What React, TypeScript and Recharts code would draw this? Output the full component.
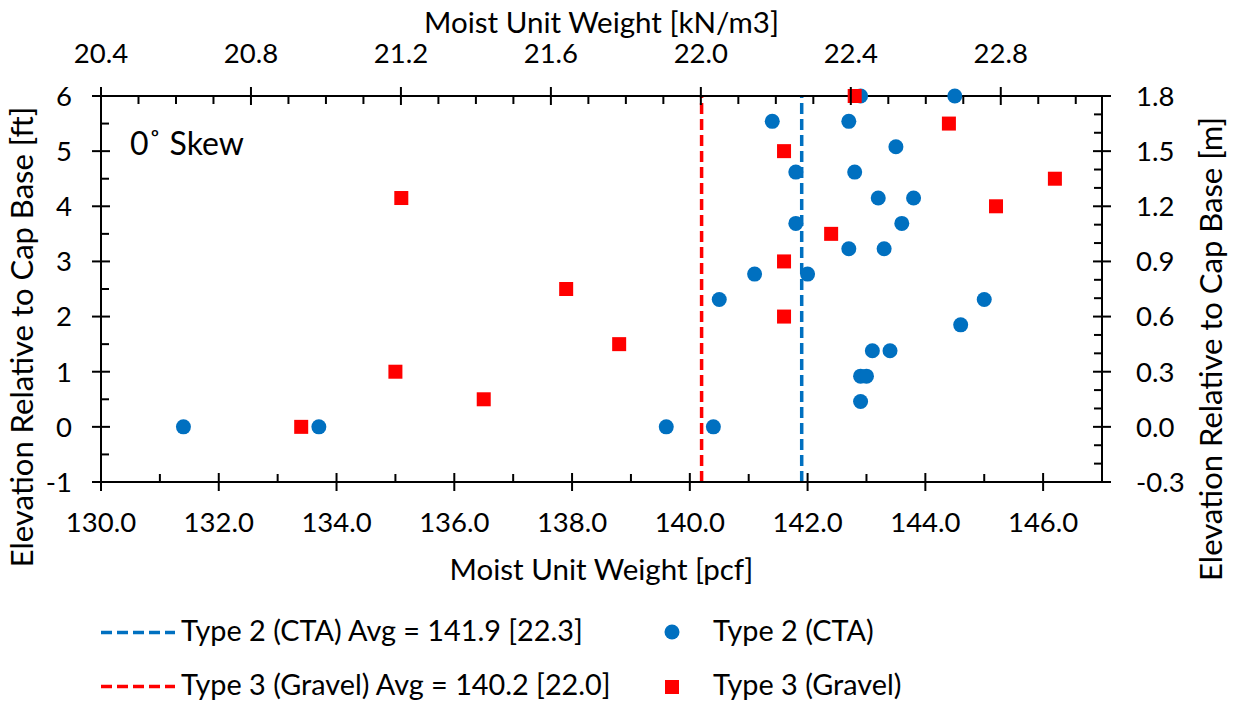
import { ScatterChart, Scatter, XAxis, YAxis, ReferenceLine } from "recharts";

// Type 2 (CTA) samples: moist unit weight [pcf] vs elevation [ft]
const type2Weight = [
  131.4, 133.7, 139.6, 140.4, 142.9, 142.9, 143.0, 143.1, 143.4, 144.6, 140.5, 145.0, 141.1, 142.0,
  142.7, 143.3, 141.8, 143.6, 143.2, 143.8, 141.8, 142.8, 143.5, 141.4, 142.7, 142.9, 144.5,
];
const type2Elev = [
  0, 0, 0, 0, 0.46, 0.92, 0.92, 1.38, 1.38, 1.85, 2.31, 2.31, 2.77, 2.77,
  3.23, 3.23, 3.69, 3.69, 4.15, 4.15, 4.62, 4.62, 5.08, 5.54, 5.54, 6.0, 6.0,
];

// Type 3 (Gravel) samples
const type3Weight = [133.4, 136.5, 135.0, 138.8, 141.6, 137.9, 141.6, 142.4, 145.2, 135.1, 146.2, 141.6, 144.4, 142.8];
const type3Elev = [0, 0.5, 1.0, 1.5, 2.0, 2.5, 3.0, 3.5, 4.0, 4.15, 4.5, 5.0, 5.5, 6.0];

const type2Avg = 141.9;
const type3Avg = 140.2;

// axis ticks
const pcfMajor = [130, 132, 134, 136, 138, 140, 142, 144, 146];
const pcfMinor = [131, 133, 135, 137, 139, 141, 143, 145, 147];
const knMajor = [20.4, 20.8, 21.2, 21.6, 22.0, 22.4, 22.8];
const knMinor = [
  20.5, 20.6, 20.7, 20.9, 21.0, 21.1, 21.3, 21.4, 21.5, 21.7, 21.8, 21.9,
  22.1, 22.2, 22.3, 22.5, 22.6, 22.7, 22.9, 23.0,
];
const ftMajor = [-1, 0, 1, 2, 3, 4, 5, 6];
const ftMinor = [-0.5, 0.5, 1.5, 2.5, 3.5, 4.5, 5.5];
const mMajor = [-0.3, 0, 0.3, 0.6, 0.9, 1.2, 1.5, 1.8];
const mMinor = [-0.2, -0.1, 0.1, 0.2, 0.4, 0.5, 0.7, 0.8, 1.0, 1.1, 1.3, 1.4, 1.6, 1.7];

const BLUE = "#0070C0";
const RED = "#FF0000";
const FONT = "Lato, 'Noto Sans', sans-serif";
const TICK_FS = 27.5;
const TITLE_FS = 29.5;

const type2Points = type2Weight.map((w, i) => ({ x: w, y: type2Elev[i] }));
const type3Points = type3Weight.map((w, i) => ({ x: w, y: type3Elev[i] }));

type Side = "bottom" | "top" | "left" | "right";

function makeTick(side: Side, majors: number[], digits: number) {
  return (props: any) => {
    const { x, y, payload } = props;
    const v = payload.value;
    const major = majors.some((m) => Math.abs(m - v) < 1e-6);
    const label = Math.abs(v) < 1e-9 ? (0).toFixed(digits) : v.toFixed(digits);
    const ln = { stroke: "#000", strokeWidth: 2 };
    let line;
    let text = null;
    if (side === "bottom" || side === "top") {
      const inward = side === "bottom" ? -8 : 8;
      line = major ? <line x1={x} x2={x} y1={y - 9} y2={y + 9} {...ln} /> : <line x1={x} x2={x} y1={y} y2={y + inward} {...ln} />;
      if (major)
        text = (
          <text x={x} y={side === "bottom" ? y + 50 : y - 33} textAnchor="middle" fontSize={TICK_FS} fontFamily={FONT} fill="#000">
            {label}
          </text>
        );
    } else {
      const inward = side === "left" ? 8 : -8;
      line = major ? <line x1={x - 9} x2={x + 9} y1={y} y2={y} {...ln} /> : <line x1={x} x2={x + inward} y1={y} y2={y} {...ln} />;
      if (major)
        text = (
          <text
            x={side === "left" ? x - 29 : x + 34}
            y={y + 9.8}
            textAnchor={side === "left" ? "end" : "start"}
            fontSize={TICK_FS}
            fontFamily={FONT}
            fill="#000"
          >
            {label}
          </text>
        );
    }
    return (
      <g>
        {line}
        {text}
      </g>
    );
  };
}

const axisTitle = (text: string, side: Side, fontSize: number) => (props: any) => {
  const vb = props.viewBox;
  const common = { fontSize, fontFamily: FONT, fill: "#000", textAnchor: "middle" as const };
  if (side === "bottom") {
    return <text x={vb.x + vb.width / 2} y={580} {...common}>{text}</text>;
  }
  if (side === "top") {
    return <text x={vb.x + vb.width / 2} y={33} {...common}>{text}</text>;
  }
  const x = side === "left" ? 33 : 1222;
  const y = side === "left" ? 337 : 349;
  return (
    <text x={x} y={y} transform={`rotate(-90, ${x}, ${y})`} {...common}>
      {text}
    </text>
  );
};

const Dot = (p: any) => <circle cx={p.cx} cy={p.cy} r={7.5} fill={BLUE} />;
const Sq = (p: any) => <rect x={p.cx - 7} y={p.cy - 7} width={14} height={14} fill={RED} />;

const axisLine = { stroke: "#000", strokeWidth: 2 };

export default function App() {
  return (
    <div style={{ position: "absolute", left: 0, top: 0, width: 1234, height: 704, background: "#fff" }}>
      <ScatterChart width={1234} height={600} margin={{ top: 0, right: 0, bottom: 0, left: 0 }}>
        <XAxis
          xAxisId="pcf"
          dataKey="x"
          type="number"
          orientation="bottom"
          domain={[130, 147]}
          ticks={[...pcfMajor, ...pcfMinor]}
          interval={0}
          height={118}
          tickSize={0}
          tickMargin={0}
          tickLine={false}
          axisLine={axisLine}
          tick={makeTick("bottom", pcfMajor, 1)}
          label={axisTitle("Moist Unit Weight [pcf]", "bottom", TITLE_FS)}
        />
        <XAxis
          xAxisId="kn"
          dataKey="x"
          type="number"
          orientation="top"
          domain={[20.4, 23.07]}
          allowDataOverflow
          ticks={[...knMajor, ...knMinor]}
          interval={0}
          height={96}
          tickSize={0}
          tickMargin={0}
          tickLine={false}
          axisLine={axisLine}
          tick={makeTick("top", knMajor, 1)}
          label={axisTitle("Moist Unit Weight [kN/m3]", "top", TITLE_FS)}
        />
        <YAxis
          yAxisId="ft"
          dataKey="y"
          type="number"
          orientation="left"
          domain={[-1, 6]}
          ticks={[...ftMajor, ...ftMinor]}
          interval={0}
          width={101}
          tickSize={0}
          tickMargin={0}
          tickLine={false}
          axisLine={axisLine}
          tick={makeTick("left", ftMajor, 0)}
          label={axisTitle("Elevation Relative to Cap Base [ft]", "left", 31)}
        />
        <YAxis
          yAxisId="m"
          dataKey="y"
          type="number"
          orientation="right"
          domain={[-0.3, 1.8]}
          allowDataOverflow
          ticks={[...mMajor, ...mMinor]}
          interval={0}
          width={132}
          tickSize={0}
          tickMargin={0}
          tickLine={false}
          axisLine={axisLine}
          tick={makeTick("right", mMajor, 1)}
          label={axisTitle("Elevation Relative to Cap Base [m]", "right", 31)}
        />
        <Scatter name="Type 2 (CTA)" data={type2Points} xAxisId="pcf" yAxisId="ft" shape={Dot} isAnimationActive={false} />
        <Scatter name="Type 3 (Gravel)" data={type3Points} xAxisId="pcf" yAxisId="ft" shape={Sq} isAnimationActive={false} />
        <ReferenceLine x={type2Avg} xAxisId="pcf" yAxisId="ft" stroke={BLUE} strokeWidth={3.5} strokeDasharray="11 5" />
        <ReferenceLine x={type3Avg} xAxisId="pcf" yAxisId="ft" stroke={RED} strokeWidth={3.5} strokeDasharray="11 5" />
      </ScatterChart>
      <svg width={1234} height={704} style={{ position: "absolute", left: 0, top: 0, pointerEvents: "none" }}>
        <text x={130} y={155} fontSize={32} fontFamily={FONT} fill="#000">
          0˚ Skew
        </text>
        <g fontFamily={FONT} fontSize={28.8} fill="#000">
          <line x1={101} x2={175} y1={632.5} y2={632.5} stroke={BLUE} strokeWidth={3.5} strokeDasharray="11 5" />
          <text x={181} y={640.5}>Type 2 (CTA) Avg = 141.9 [22.3]</text>
          <circle cx={672} cy={632} r={7.5} fill={BLUE} />
          <text x={713} y={640.5}>Type 2 (CTA)</text>
          <line x1={101} x2={175} y1={686.5} y2={686.5} stroke={RED} strokeWidth={3.5} strokeDasharray="11 5" />
          <text x={181} y={694.5}>Type 3 (Gravel) Avg = 140.2 [22.0]</text>
          <rect x={665} y={680} width={14} height={14} fill={RED} />
          <text x={713} y={694.5}>Type 3 (Gravel)</text>
        </g>
      </svg>
    </div>
  );
}
